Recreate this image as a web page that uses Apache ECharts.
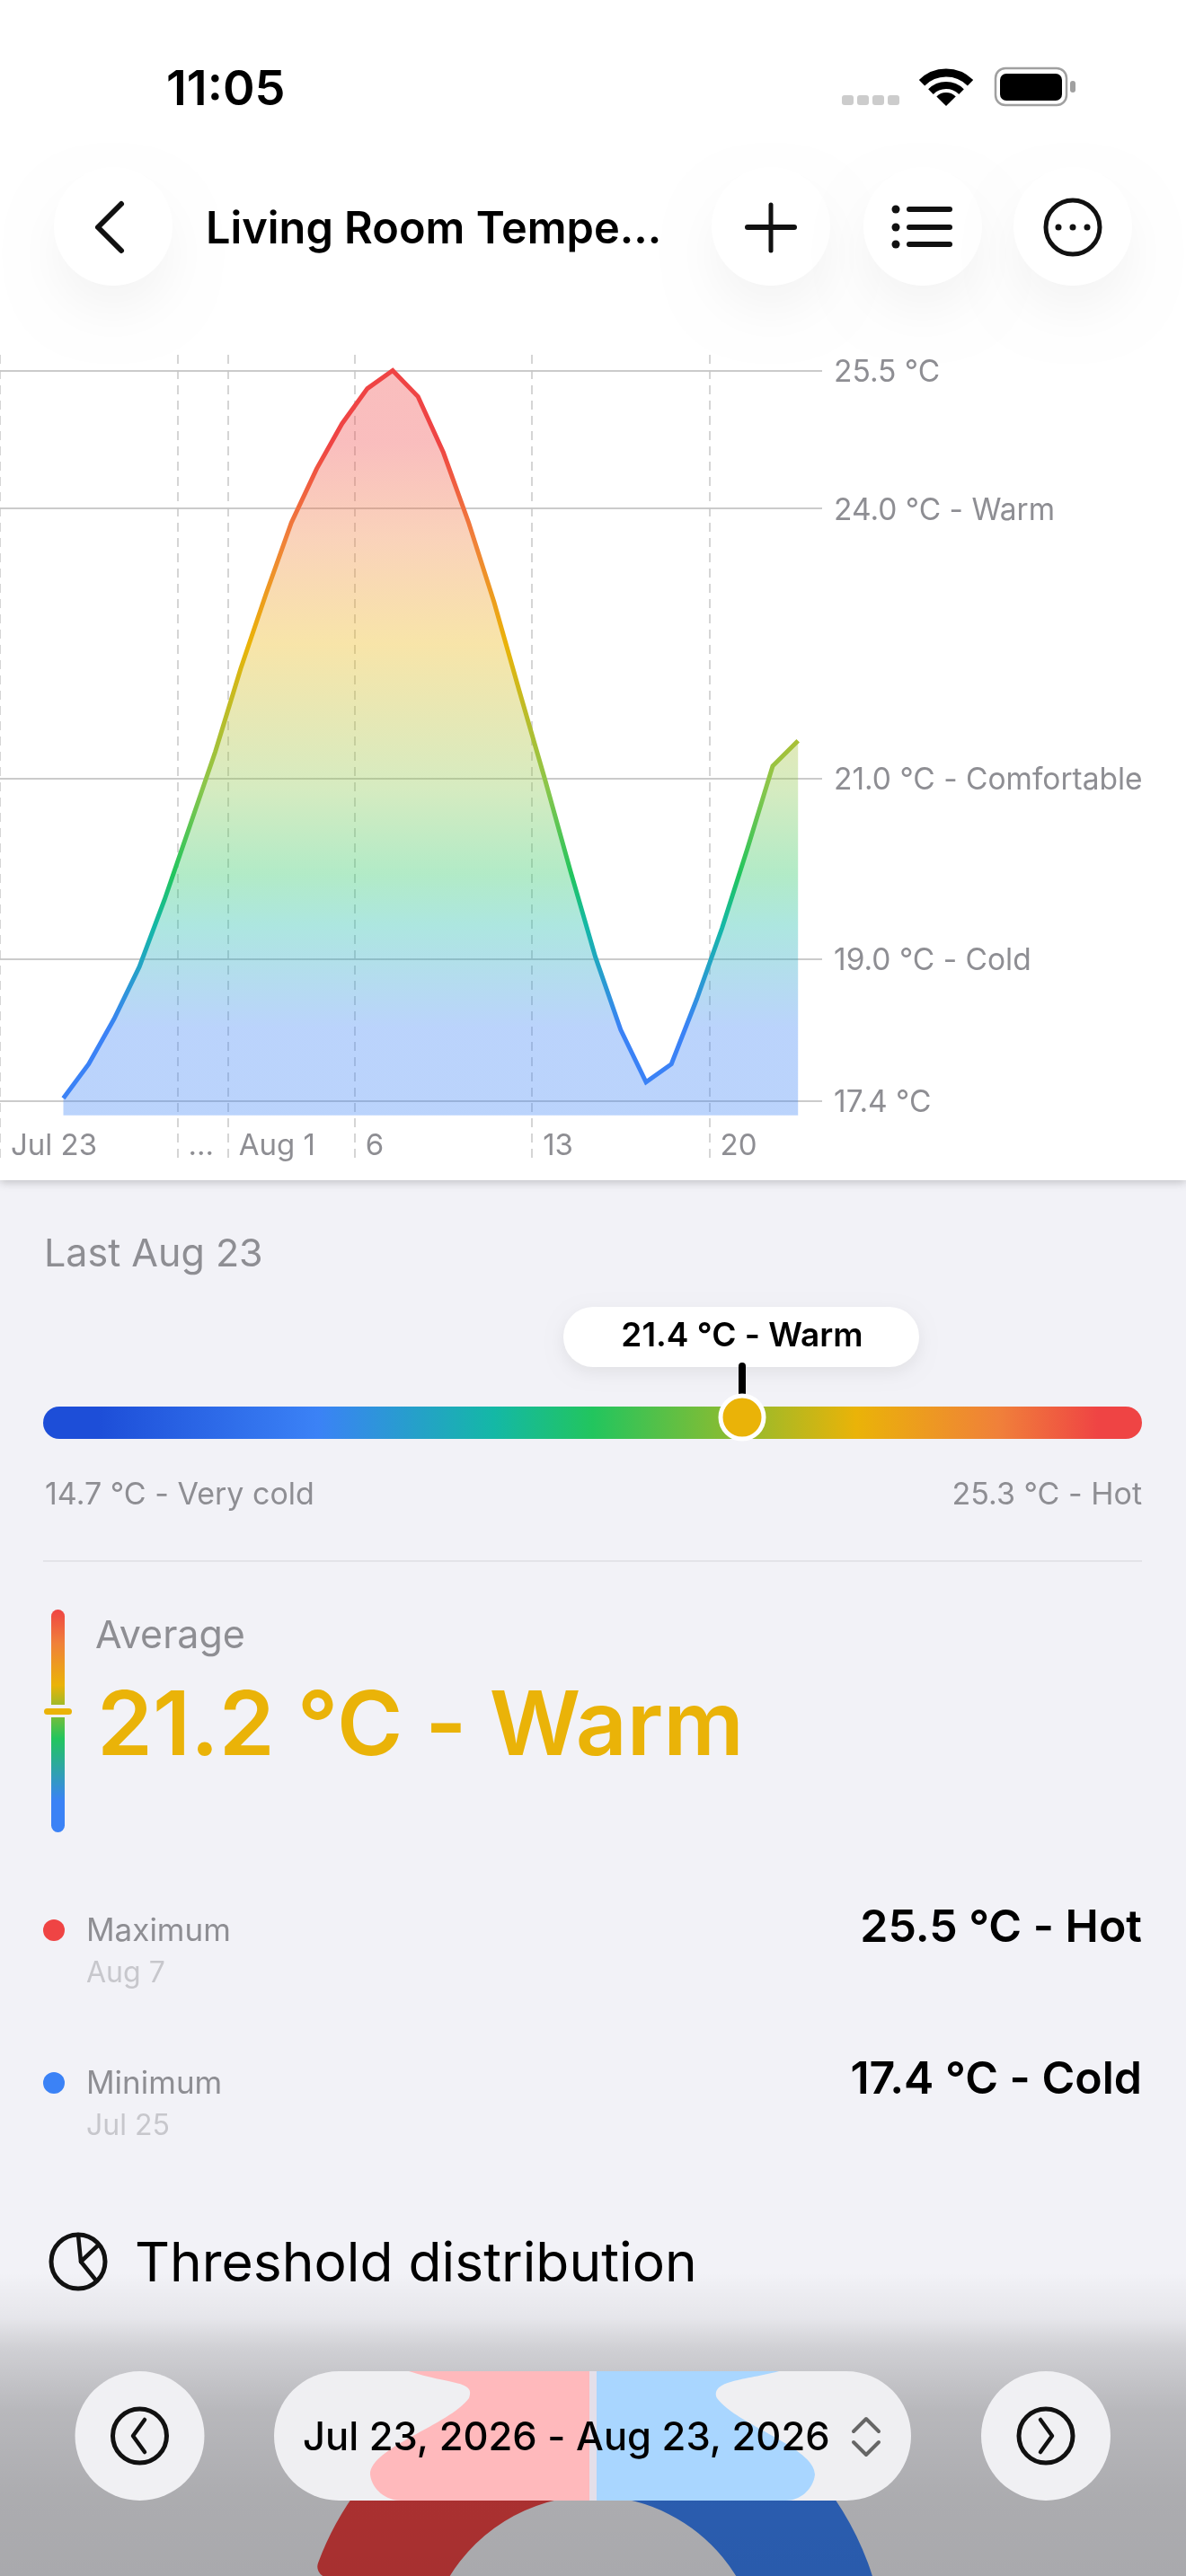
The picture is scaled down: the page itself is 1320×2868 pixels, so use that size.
<!DOCTYPE html>
<html>
<head>
<meta charset="utf-8">
<title>Living Room Temperature</title>
<script src="https://cdn.jsdelivr.net/npm/echarts@6/dist/echarts.min.js"></script>
<style>
    html, body { margin: 0; padding: 0; background: #f2f2f7; }
    #main { width: 1320px; height: 2868px; }
</style>
</head>
<body>
<div id="main"></div>
<script>
// days counted from Jul 23
var dayOffsets = [2, 3, 4, 5, 6, 7, 8, 9, 10, 11, 12, 13, 14, 15, 16, 17, 18, 19, 20, 21, 22, 23, 24, 25, 26, 27, 28, 29, 30, 31];
var temperatures = [17.45, 17.83, 18.33, 18.91, 19.66, 20.48, 21.30, 22.22, 23.05, 23.84, 24.44, 24.94, 25.33, 25.53, 25.24, 24.62, 23.84, 22.96, 21.97, 21.00, 19.99, 19.02, 18.21, 17.63, 17.83, 18.55, 19.34, 20.22, 21.14, 21.42];

var thresholdValues = [17.42, 19, 21, 24, 25.53];
var thresholdLabels = ['17.4 °C', '19.0 °C - Cold', '21.0 °C - Comfortable', '24.0 °C - Warm', '25.5 °C'];

var tickDays = [0, 7, 9, 14, 21, 28];
var tickLabels = ['Jul 23', '...', 'Aug 1', '6', '13', '20'];

var distributionNames = ['Cold', 'Other', 'Hot'];
var distributionValues = [40, 40, 20];

var FONT = 'Inter, "Noto Sans", sans-serif';
var GREY = '#8e8e93';
var RED = '#ef4444', ORANGE = '#f0803a', YELLOW = '#eab308', LIME = '#8ac64b', GREEN = '#22c55e', TEAL = '#14b8a6', BLUE = '#3b82f6';

// blobs seen through the glass pill at the bottom
echarts.graphic.registerShape('pinkBlob', echarts.graphic.extendPath(
    'M455 2640 C500 2655 530 2650 522 2670 C500 2700 412 2725 412 2755 C414 2772 430 2784 446 2784 L656 2784 L656 2640 Z', {}));
echarts.graphic.registerShape('blueBlob', echarts.graphic.extendPath(
    'M664 2640 L867 2640 C830 2650 790 2650 798 2670 C820 2700 907 2725 907 2755 C905 2772 890 2784 875 2784 L664 2784 Z', {}));

function txt(text, x, y, size, color, weight, align) {
    return {
        type: 'text',
        z: 70,
        silent: true,
        style: {
            text: text,
            x: x,
            y: y + 2,
            fill: color,
            fontFamily: FONT,
            fontSize: size,
            fontWeight: weight || 400,
            textAlign: align || 'left',
            textVerticalAlign: 'middle'
        }
    };
}

function stroke(points, width, color, z) {
    return {
        type: 'polyline',
        z: z || 70,
        silent: true,
        shape: { points: points },
        style: { stroke: color || '#111', lineWidth: width, lineCap: 'round', lineJoin: 'round', fill: null }
    };
}

function box(x, y, w, h, r, fill, z, shadow) {
    var style = { fill: fill };
    if (shadow) {
        style.shadowColor = shadow[0];
        style.shadowBlur = shadow[1];
        style.shadowOffsetY = shadow[2];
    }
    return { type: 'rect', z: z, silent: true, shape: { x: x, y: y, width: w, height: h, r: r }, style: style };
}

function ring(cx, cy, r, width, color, fill, z, shadow) {
    var style = { stroke: color, lineWidth: width, fill: fill || null };
    if (shadow) {
        style.shadowColor = shadow[0];
        style.shadowBlur = shadow[1];
        style.shadowOffsetY = shadow[2];
    }
    return { type: 'circle', z: z || 70, silent: true, shape: { cx: cx, cy: cy, r: r }, style: style };
}

function gradV(stops) {
    return new echarts.graphic.LinearGradient(0, 0, 0, 1, stops);
}

function tempGradient(alpha) {
    // page coordinates, so line and area share the same colour at the same height
    var c = function (hex) {
        var n = parseInt(hex.slice(1), 16);
        return 'rgba(' + (n >> 16) + ',' + ((n >> 8) & 255) + ',' + (n & 255) + ',' + alpha + ')';
    };
    return new echarts.graphic.LinearGradient(0, 412, 0, 1226, [
        { offset: 0, color: c(RED) },
        { offset: 0.1, color: c(RED) },
        { offset: 0.23, color: c(ORANGE) },
        { offset: 0.375, color: c(YELLOW) },
        { offset: 0.57, color: c(LIME) },
        { offset: 0.69, color: c(GREEN) },
        { offset: 0.76, color: c(TEAL) },
        { offset: 0.9, color: c(BLUE) },
        { offset: 1, color: c(BLUE) }
    ], true);
}

var btnShadow = ['rgba(0,0,0,0.04)', 50, 30];

var chrome = [
    // page pieces
    box(0, 0, 1320, 2868, 0, '#f2f2f7', -20),
    box(0, 0, 1320, 1314, 0, '#ffffff', -10, ['rgba(0,0,0,0.22)', 10, 2]),

    // status bar
    txt('11:05', 185, 99, 54, '#000', 600),
    box(937, 106, 13, 11, 3, '#cccccc', 70),
    box(954, 106, 13, 11, 3, '#cccccc', 70),
    box(971, 106, 13, 11, 3, '#cccccc', 70),
    box(988, 106, 13, 11, 3, '#cccccc', 70),
    { type: 'arc', z: 70, silent: true, shape: { cx: 1053, cy: 119, r: 38, startAngle: -2.36, endAngle: -0.78 }, style: { stroke: '#000', lineWidth: 9, fill: null } },
    { type: 'arc', z: 70, silent: true, shape: { cx: 1053, cy: 119, r: 24, startAngle: -2.36, endAngle: -0.78 }, style: { stroke: '#000', lineWidth: 8, fill: null } },
    { type: 'sector', z: 70, silent: true, shape: { cx: 1053, cy: 118, r: 15, r0: 0, startAngle: -2.36, endAngle: -0.78 }, style: { fill: '#000' } },
    box(1108, 76, 79, 41, 11, '#fff', 70),
    { type: 'rect', z: 70, silent: true, shape: { x: 1108, y: 76, width: 79, height: 41, r: 11 }, style: { fill: null, stroke: '#a0a0a0', lineWidth: 2.5 } },
    box(1113, 82, 69, 30, 7, '#000', 71),
    box(1191, 90, 6, 13, 3, '#a0a0a0', 70),

    // header buttons
    ring(126, 252, 66, 0, '#fff', '#fff', 60, btnShadow),
    ring(858, 252, 66, 0, '#fff', '#fff', 60, btnShadow),
    ring(1027, 252, 66, 0, '#fff', '#fff', 60, btnShadow),
    ring(1194, 252, 66, 0, '#fff', '#fff', 60, btnShadow),
    stroke([[135, 227], [109, 253], [135, 279]], 6),
    txt('Living Room Tempe...', 229, 254, 48.7, '#000', 600),
    stroke([[858, 228], [858, 279]], 5),
    stroke([[832, 253], [884, 253]], 6),
    ring(997, 233, 4.5, 0, '#111', '#111'),
    ring(997, 253, 4.5, 0, '#111', '#111'),
    ring(997, 272, 4.5, 0, '#111', '#111'),
    stroke([[1012, 233], [1057, 233]], 6),
    stroke([[1012, 253], [1057, 253]], 6),
    stroke([[1012, 272], [1057, 272]], 6),
    ring(1194, 253, 30, 5, '#111'),
    ring(1178, 253, 3.5, 0, '#111', '#111'),
    ring(1194, 253, 3.5, 0, '#111', '#111'),
    ring(1210, 253, 3.5, 0, '#111', '#111'),

    // last reading slider
    txt('Last Aug 23', 49, 1395, 43, GREY),
    box(627, 1455, 396, 67, 33, '#fff', 60, ['rgba(0,0,0,0.07)', 18, 6]),
    txt('21.4 °C - Warm', 826, 1486, 37, '#000', 600, 'center'),
    {
        type: 'rect', z: 60, silent: true,
        shape: { x: 48, y: 1566, width: 1223, height: 36, r: 18 },
        style: {
            fill: new echarts.graphic.LinearGradient(0, 0, 1, 0, [
                { offset: 0.05, color: '#1d4ed8' },
                { offset: 0.25, color: BLUE },
                { offset: 0.41, color: TEAL },
                { offset: 0.5, color: GREEN },
                { offset: 0.74, color: YELLOW },
                { offset: 0.87, color: ORANGE },
                { offset: 0.96, color: RED }
            ])
        }
    },
    stroke([[826, 1521], [826, 1552]], 8, '#000', 71),
    ring(826, 1578, 24, 5, '#fff', YELLOW, 71),
    txt('14.7 °C - Very cold', 50, 1663, 34, GREY),
    txt('25.3 °C - Hot', 1271, 1663, 34, GREY, 400, 'right'),
    box(48, 1737, 1223, 2, 0, '#e3e3e8', 60),

    // average block
    {
        type: 'rect', z: 60, silent: true,
        shape: { x: 57, y: 1792, width: 15, height: 248, r: 7.5 },
        style: {
            fill: gradV([
                { offset: 0, color: RED },
                { offset: 0.15, color: ORANGE },
                { offset: 0.34, color: YELLOW },
                { offset: 0.58, color: GREEN },
                { offset: 0.86, color: BLUE },
                { offset: 1, color: BLUE }
            ])
        }
    },
    box(48, 1898, 33, 14, 0, '#f2f2f7', 61),
    box(49, 1902, 31, 7, 3.5, YELLOW, 62),
    txt('Average', 106, 1820, 43, GREY),
    txt('21.2 °C - Warm', 108, 1922, 99.5, YELLOW, 600),

    ring(60, 2149, 12, 0, RED, RED),
    txt('Maximum', 96, 2148, 35, GREY),
    txt('Aug 7', 96, 2195, 32, '#c7c7cc'),
    txt('25.5 °C - Hot', 1271, 2145, 50, '#000', 600, 'right'),
    ring(60, 2319, 12, 0, BLUE, BLUE),
    txt('Minimum', 96, 2318, 35, GREY),
    txt('Jul 25', 96, 2365, 32, '#c7c7cc'),
    txt('17.4 °C - Cold', 1271, 2314, 50, '#000', 600, 'right'),

    // threshold heading
    ring(87, 2518, 30, 5, '#111'),
    stroke([[87, 2488], [90, 2518], [110, 2499]], 4.5, '#111'),
    stroke([[90, 2518], [107, 2539]], 4.5, '#111'),
    txt('Threshold distribution', 150, 2520, 60.5, '#000'),

    // dimmed bottom bar
    {
        type: 'rect', z: 50, silent: true,
        shape: { x: 0, y: 2530, width: 1320, height: 338 },
        style: {
            fill: gradV([
                { offset: 0, color: 'rgba(0,0,0,0)' },
                { offset: 0.15, color: 'rgba(0,0,0,0.05)' },
                { offset: 0.25, color: 'rgba(0,0,0,0.14)' },
                { offset: 0.45, color: 'rgba(0,0,0,0.24)' },
                { offset: 0.74, color: 'rgba(0,0,0,0.29)' },
                { offset: 1, color: 'rgba(0,0,0,0.3)' }
            ])
        }
    },
    ring(155.5, 2712, 72, 0, '#f0f0f3', '#f0f0f3', 60),
    ring(155.5, 2712, 30, 5, '#111'),
    stroke([[161, 2694], [148, 2712], [161, 2730]], 4.5),
    ring(1164, 2712, 72, 0, '#f0f0f3', '#f0f0f3', 60),
    ring(1164, 2712, 30, 5, '#111'),
    stroke([[1158, 2694], [1171, 2712], [1158, 2730]], 4.5),
    box(305, 2640, 709, 144, 72, '#efeff2', 60),
    box(654, 2640, 12, 144, 0, '#e4dfe9', 61),
    { type: 'pinkBlob', z: 61, silent: true, style: { fill: '#ffb9bc' } },
    { type: 'blueBlob', z: 61, silent: true, style: { fill: '#a9d6ff' } },
    txt('Jul 23, 2026 - Aug 23, 2026', 337, 2713, 43.5, '#000', 500),
    stroke([[950, 2707], [964, 2693], [978, 2707]], 4, '#666'),
    stroke([[950, 2719], [964, 2733], [978, 2719]], 4, '#666')
];

var chart = echarts.init(document.getElementById('main'));

var option = {
    animation: false,
    backgroundColor: '#f2f2f7',
    grid: { left: 0, top: 395, width: 915, height: 895 },
    xAxis: {
        type: 'value',
        min: 0,
        max: 32.45,
        axisLine: { show: false },
        axisTick: { show: false, customValues: tickDays },
        axisLabel: {
            inside: true,
            customValues: tickDays,
            margin: -3,
            align: 'left',
            verticalAlign: 'bottom',
            padding: [0, 0, 0, 12],
            color: GREY,
            fontFamily: FONT,
            fontSize: 33,
            formatter: function (v) {
                return tickLabels[tickDays.indexOf(v)];
            }
        },
        splitLine: { show: true, lineStyle: { color: '#c8c8c8', width: 1.5, type: [10, 7] } }
    },
    yAxis: {
        type: 'value',
        position: 'right',
        min: 16.78,
        max: 25.705,
        axisLine: { show: false },
        axisTick: { show: false, customValues: thresholdValues },
        axisLabel: {
            customValues: thresholdValues,
            margin: 13,
            verticalAlign: 'top',
            lineHeight: 5,
            color: GREY,
            fontFamily: FONT,
            fontSize: 33.5,
            formatter: function (v) {
                return thresholdLabels[thresholdValues.indexOf(v)];
            }
        },
        splitLine: { show: true, lineStyle: { color: '#cbcbcb', width: 2 } }
    },
    series: [{
        name: 'Temperature',
        type: 'line',
        showSymbol: false,
        silent: true,
        smooth: false,
        data: temperatures.map(function (t, i) {
            return [dayOffsets[i] + 0.5, t];
        }),
        lineStyle: { width: 5, join: 'miter', cap: 'butt', color: tempGradient(1) },
        areaStyle: { origin: 17.26, opacity: 1, color: tempGradient(0.35) }
    }, {
        name: 'Threshold distribution',
        type: 'pie',
        silent: true,
        center: [660, 2966],
        radius: [187, 326],
        startAngle: 90,
        label: { show: false },
        labelLine: { show: false },
        itemStyle: { borderRadius: 12 },
        data: distributionNames.map(function (n, i) {
            return {
                name: n,
                value: distributionValues[i],
                itemStyle: { color: [BLUE, 'rgba(0,0,0,0)', RED][i] }
            };
        })
    }],
    graphic: { elements: chrome }
};
chart.setOption(option);

window.addEventListener('resize', function () {
    chart.resize();
});
</script>
</body>
</html>
